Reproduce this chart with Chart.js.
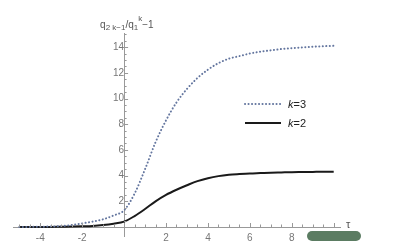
<!DOCTYPE html>
<html>
<head>
<meta charset="utf-8">
<script src="https://cdn.jsdelivr.net/npm/chart.js@4.4.1/dist/chart.umd.min.js"></script>
<style>
html,body{margin:0;padding:0;background:#fff;}
#wrap{width:416px;height:250px;position:relative;}
</style>
</head>
<body>
<div id="wrap"><canvas id="c" width="416" height="250"></canvas></div>
<script>
const tau = [-5,-4.5,-4,-3.5,-3,-2.5,-2,-1.5,-1,-0.5,0,0.5,1,1.5,2,2.5,3,3.5,4,4.5,5,5.5,6,6.5,7,7.5,8,8.5,9,9.5,10];
const k3 = [0,0.01,0.02,0.04,0.07,0.15,0.28,0.42,0.6,0.9,1.3,2.6,4.5,6.6,8.3,9.7,10.75,11.6,12.25,12.75,13.1,13.3,13.5,13.65,13.75,13.85,13.92,13.98,14.03,14.07,14.1];
const k2 = [0,0,0.005,0.01,0.02,0.03,0.05,0.08,0.15,0.26,0.42,0.85,1.4,2.0,2.5,2.9,3.25,3.57,3.8,3.96,4.06,4.12,4.17,4.2,4.23,4.25,4.27,4.28,4.29,4.3,4.3];
const xTicks = [-4,-2,2,4,6,8,10];
const yTicks = [2,4,6,8,10,12,14];
const seriesLabels = ['3','2'];

const toPts = (ys) => tau.map((t,i)=>({x:t,y:ys[i]}));

const tickPlugin = {
  id:'mticks',
  afterDatasetsDraw(chart){
    const {ctx, scales:{x,y}} = chart;
    const x0 = x.getPixelForValue(0), y0 = y.getPixelForValue(0);
    ctx.save();
    ctx.strokeStyle = '#999';
    ctx.lineWidth = 1;
    for(let v=-5; v<=10.001; v+=0.5){
      if(Math.abs(v)<1e-9) continue;
      const major = Math.abs(v/2-Math.round(v/2))<1e-9;
      const px = Math.round(x.getPixelForValue(v))+0.5;
      ctx.beginPath(); ctx.moveTo(px,y0); ctx.lineTo(px,y0-(major?4:2.5)); ctx.stroke();
    }
    for(let v=0.5; v<=15.001; v+=0.5){
      const major = Math.abs(v/2-Math.round(v/2))<1e-9;
      const py = Math.round(y.getPixelForValue(v))+0.5;
      ctx.beginPath(); ctx.moveTo(x0,py); ctx.lineTo(x0+(major?4:2.5),py); ctx.stroke();
    }
    ctx.restore();
  },
  afterDraw(chart){
    const {ctx, chartArea:ca, scales:{x,y}} = chart;
    const x0 = x.getPixelForValue(0), y0 = y.getPixelForValue(0);
    ctx.save();
    ctx.fillStyle = '#555';
    ctx.textBaseline = 'alphabetic';
    ctx.font = '11px "Liberation Sans", Arial, sans-serif';
    ctx.fillText('τ', ca.right+6, y0+1);
    let cx = x0-24, by = 28;
    const part = (t, size, dy) => { ctx.font = size+'px "Liberation Sans", Arial, sans-serif'; ctx.fillText(t, cx, by+dy); cx += ctx.measureText(t).width; };
    part('q',10,0); part('2 k\u22121',8,2); part('/q',10,0); part('1',8,2); part('k',8,-7); part('\u22121',10,0);
    const ds = chart.data.datasets;
    const lx = 245, ly = [104,123];
    ds.forEach((d,i)=>{
      ctx.save();
      ctx.strokeStyle = d.borderColor; ctx.lineWidth = d.borderWidth;
      ctx.lineCap = d.borderCapStyle || 'butt';
      ctx.setLineDash(d.borderDash || []);
      ctx.beginPath(); ctx.moveTo(lx, ly[i]); ctx.lineTo(lx+36, ly[i]); ctx.stroke();
      ctx.restore();
      ctx.fillStyle = '#222';
      ctx.font = 'italic 11px "Liberation Sans", Arial, sans-serif';
      ctx.fillText('k', lx+43, ly[i]+4);
      const w = ctx.measureText('k').width;
      ctx.font = '11px "Liberation Sans", Arial, sans-serif';
      ctx.fillText('='+seriesLabels[i], lx+43+w, ly[i]+4);
    });
    ctx.fillStyle = '#5b7c62';
    ctx.beginPath();
    if(ctx.roundRect){ ctx.roundRect(307,231,54,10,5); } else { ctx.rect(307,231,54,10); }
    ctx.fill();
    ctx.restore();
  }
};

new Chart(document.getElementById('c'), {
  type:'line',
  data:{
    datasets:[
      {label:'k=3', data:toPts(k3), borderColor:'#64769f', borderWidth:2, borderDash:[0.1,3.4], borderCapStyle:'round', pointRadius:0, cubicInterpolationMode:'monotone', fill:false},
      {label:'k=2', data:toPts(k2), borderColor:'#1a1a1a', borderWidth:2, pointRadius:0, cubicInterpolationMode:'monotone', fill:false}
    ]
  },
  options:{
    responsive:false, animation:false,
    layout:{padding:{left:13,right:76,top:33,bottom:14}},
    plugins:{legend:{display:false}, tooltip:{enabled:false}},
    scales:{
      x:{type:'linear', min:-5.3, max:10.3, position:{y:0},
        grid:{display:false, drawTicks:false}, border:{display:true, color:'#999', width:1},
        afterBuildTicks:(s)=>{ s.ticks = xTicks.map(v=>({value:v})); },
        ticks:{padding:5, color:'#777', font:{size:10, family:'"Liberation Sans", Arial, sans-serif'}, maxRotation:0, autoSkip:false}
      },
      y:{type:'linear', min:-0.7, max:15.1, position:{x:0},
        grid:{display:false, drawTicks:false}, border:{display:true, color:'#999', width:1},
        afterBuildTicks:(s)=>{ s.ticks = yTicks.map(v=>({value:v})); },
        ticks:{padding:4, color:'#777', font:{size:10, family:'"Liberation Sans", Arial, sans-serif'}, autoSkip:false}
      }
    }
  },
  plugins:[tickPlugin]
});
</script>
</body>
</html>
